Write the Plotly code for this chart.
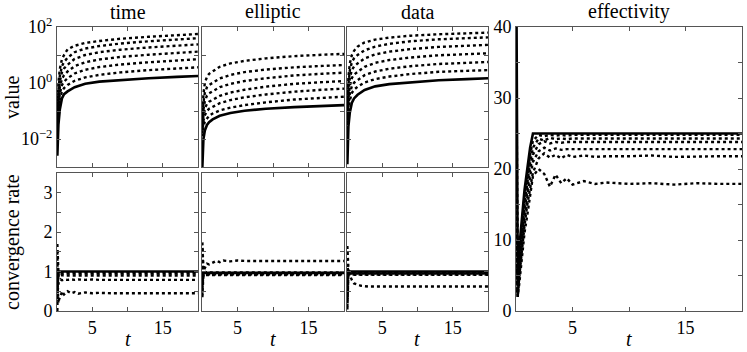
import numpy as np
import plotly.graph_objects as go

# ---- data ----
t_top = [0.05, 0.1, 0.2, 0.4, 0.7, 1.0, 1.5, 2.5, 4, 6, 9, 13, 17, 20]

# log10 of the values (solid first, then the six dotted curves)
time_log = [
    [-2.6, -2.0, -1.5, -0.95, -0.55, -0.4, -0.3, -0.15, -0.03, 0.05, 0.11, 0.17, 0.22, 0.25],
    [-1.2, -0.6, 0.0, 0.5, 0.85, 1.0, 1.2, 1.33, 1.43, 1.5, 1.58, 1.65, 1.71, 1.75],
    [-1.3, -0.8, -0.25, 0.25, 0.6, 0.75, 0.9, 1.1, 1.23, 1.32, 1.41, 1.49, 1.55, 1.6],
    [-1.4, -0.95, -0.45, 0.05, 0.38, 0.52, 0.65, 0.86, 1.0, 1.1, 1.19, 1.27, 1.33, 1.38],
    [-1.5, -1.1, -0.65, -0.15, 0.15, 0.28, 0.41, 0.6, 0.74, 0.84, 0.93, 1.01, 1.07, 1.12],
    [-1.6, -1.25, -0.85, -0.38, -0.08, 0.05, 0.17, 0.34, 0.47, 0.57, 0.66, 0.74, 0.8, 0.85],
    [-1.7, -1.4, -1.05, -0.6, -0.3, -0.18, -0.07, 0.08, 0.2, 0.29, 0.38, 0.46, 0.52, 0.56],
]
elliptic_log = [
    [-3.0, -2.4, -2.0, -1.7, -1.5, -1.4, -1.3, -1.17, -1.07, -0.99, -0.92, -0.86, -0.82, -0.79],
    [-1.4, -0.9, -0.4, 0.0, 0.22, 0.33, 0.42, 0.58, 0.7, 0.79, 0.88, 0.96, 1.01, 1.04],
    [-1.5, -1.1, -0.7, -0.35, -0.15, -0.07, 0.01, 0.16, 0.29, 0.39, 0.48, 0.56, 0.61, 0.64],
    [-1.6, -1.25, -0.95, -0.65, -0.45, -0.37, -0.3, -0.15, -0.03, 0.07, 0.17, 0.27, 0.33, 0.37],
    [-1.7, -1.4, -1.15, -0.9, -0.75, -0.67, -0.6, -0.46, -0.34, -0.24, -0.13, -0.03, 0.03, 0.07],
    [-1.8, -1.55, -1.35, -1.15, -1.0, -0.92, -0.85, -0.72, -0.61, -0.51, -0.41, -0.31, -0.24, -0.2],
    [-1.9, -1.7, -1.55, -1.38, -1.25, -1.17, -1.09, -0.98, -0.88, -0.79, -0.69, -0.59, -0.53, -0.49],
]
data_log = [
    [-2.9, -2.1, -1.55, -1.05, -0.7, -0.55, -0.42, -0.25, -0.12, -0.04, 0.03, 0.1, 0.14, 0.17],
    [-1.0, -0.4, 0.2, 0.7, 1.0, 1.15, 1.3, 1.45, 1.55, 1.62, 1.69, 1.74, 1.78, 1.8],
    [-1.1, -0.6, -0.05, 0.45, 0.75, 0.88, 1.0, 1.17, 1.3, 1.4, 1.49, 1.56, 1.6, 1.63],
    [-1.2, -0.8, -0.3, 0.18, 0.47, 0.59, 0.7, 0.88, 1.02, 1.12, 1.21, 1.29, 1.33, 1.36],
    [-1.35, -1.0, -0.55, -0.1, 0.18, 0.3, 0.4, 0.58, 0.72, 0.82, 0.91, 0.99, 1.03, 1.06],
    [-1.5, -1.2, -0.8, -0.38, -0.1, 0.01, 0.11, 0.28, 0.41, 0.51, 0.6, 0.68, 0.72, 0.75],
    [-1.65, -1.4, -1.05, -0.62, -0.35, -0.24, -0.13, 0.02, 0.14, 0.23, 0.32, 0.4, 0.44, 0.46],
]

t_rate = [0.05, 0.1, 0.2, 0.3, 0.5, 0.7, 1.0, 1.5, 2, 2.5, 3, 4, 5, 6, 8, 10, 12, 14, 16, 18, 20]

time_rate = [
    [0.6, 0.85, 0.95, 1.0, 1.0, 1.0, 1.0, 1.0, 1.0, 1.0, 1.0, 1.0, 1.0, 1.0, 1.0, 1.0, 1.0, 1.0, 1.0, 1.0, 1.0],
    [1.7, 1.2, 1.0, 0.98, 0.99, 0.98, 0.98, 0.98, 0.98, 0.98, 0.98, 0.98, 0.98, 0.98, 0.98, 0.98, 0.98, 0.98, 0.98, 0.98, 0.98],
    [1.5, 0.8, 0.95, 0.96, 0.95, 0.95, 0.95, 0.95, 0.95, 0.95, 0.95, 0.95, 0.95, 0.95, 0.95, 0.95, 0.95, 0.95, 0.95, 0.95, 0.95],
    [0.3, 1.0, 0.88, 0.92, 0.9, 0.91, 0.9, 0.9, 0.9, 0.9, 0.9, 0.9, 0.9, 0.9, 0.9, 0.9, 0.9, 0.9, 0.9, 0.9, 0.9],
    [1.1, 0.5, 0.7, 0.75, 0.8, 0.78, 0.8, 0.79, 0.8, 0.79, 0.8, 0.79, 0.8, 0.79, 0.79, 0.79, 0.79, 0.79, 0.79, 0.79, 0.79],
    [0.0, 0.6, 0.2, 0.3, 0.35, 0.5, 0.42, 0.5, 0.45, 0.48, 0.44, 0.47, 0.45, 0.46, 0.45, 0.45, 0.45, 0.45, 0.45, 0.45, 0.45],
]
elliptic_rate = [
    [0.9, 1.0, 0.97, 0.97, 0.97, 0.97, 0.97, 0.97, 0.97, 0.97, 0.97, 0.97, 0.97, 0.97, 0.97, 0.97, 0.97, 0.97, 0.97, 0.97, 0.97],
    [1.6, 1.1, 0.95, 1.05, 1.15, 1.2, 1.18, 1.22, 1.27, 1.24, 1.28, 1.26, 1.28, 1.27, 1.27, 1.27, 1.27, 1.27, 1.27, 1.27, 1.27],
    [1.74, 1.2, 1.0, 0.98, 0.99, 0.98, 0.98, 0.98, 0.98, 0.98, 0.98, 0.98, 0.98, 0.98, 0.98, 0.98, 0.98, 0.98, 0.98, 0.98, 0.98],
    [0.35, 0.8, 0.95, 0.96, 0.96, 0.96, 0.96, 0.96, 0.96, 0.96, 0.96, 0.96, 0.96, 0.96, 0.96, 0.96, 0.96, 0.96, 0.96, 0.96, 0.96],
    [0.6, 1.1, 0.93, 0.95, 0.94, 0.95, 0.94, 0.94, 0.94, 0.94, 0.94, 0.94, 0.94, 0.94, 0.94, 0.94, 0.94, 0.94, 0.94, 0.94, 0.94],
    [1.3, 0.7, 0.9, 0.93, 0.93, 0.93, 0.93, 0.93, 0.93, 0.93, 0.93, 0.93, 0.93, 0.93, 0.93, 0.93, 0.93, 0.93, 0.93, 0.93, 0.93],
    [0.4, 0.9, 0.88, 0.91, 0.91, 0.91, 0.91, 0.91, 0.91, 0.91, 0.91, 0.91, 0.91, 0.91, 0.91, 0.91, 0.91, 0.91, 0.91, 0.91, 0.91],
]
data_rate = [
    [1.0, 1.02, 1.0, 1.0, 1.0, 1.0, 1.0, 1.0, 1.0, 1.0, 1.0, 1.0, 1.0, 1.0, 1.0, 1.0, 1.0, 1.0, 1.0, 1.0, 1.0],
    [1.65, 1.3, 1.05, 1.0, 0.99, 0.98, 0.98, 0.98, 0.98, 0.98, 0.98, 0.98, 0.98, 0.98, 0.98, 0.98, 0.98, 0.98, 0.98, 0.98, 0.98],
    [0.04, 0.8, 1.0, 0.97, 0.96, 0.96, 0.96, 0.96, 0.96, 0.96, 0.96, 0.96, 0.96, 0.96, 0.96, 0.96, 0.96, 0.96, 0.96, 0.96, 0.96],
    [0.5, 1.1, 0.97, 0.95, 0.95, 0.95, 0.95, 0.95, 0.95, 0.95, 0.95, 0.95, 0.95, 0.95, 0.95, 0.95, 0.95, 0.95, 0.95, 0.95, 0.95],
    [1.2, 0.9, 0.95, 0.94, 0.93, 0.93, 0.93, 0.93, 0.93, 0.93, 0.93, 0.93, 0.93, 0.93, 0.93, 0.93, 0.93, 0.93, 0.93, 0.93, 0.93],
    [0.3, 1.0, 0.92, 0.93, 0.92, 0.92, 0.92, 0.92, 0.92, 0.92, 0.92, 0.92, 0.92, 0.92, 0.92, 0.92, 0.92, 0.92, 0.92, 0.92, 0.92],
    [0.1, 0.6, 1.0, 0.95, 0.85, 0.78, 0.7, 0.66, 0.64, 0.63, 0.62, 0.62, 0.62, 0.62, 0.62, 0.62, 0.62, 0.62, 0.62, 0.62, 0.62],
]

t_eff = [0.05, 0.15, 0.3, 0.5, 0.75, 1.0, 1.25, 1.5, 2, 2.5, 3, 3.5, 4, 4.5, 5, 6, 7, 8, 10, 12, 14, 16, 18, 20]
effectivity = [
    [40, 5, 9, 13, 17, 20, 23, 25, 25, 25, 25, 25, 25, 25, 25, 25, 25, 25, 25, 25, 25, 25, 25, 25],
    [30, 4, 8, 12, 16, 19, 22, 24, 24.8, 24.6, 24.8, 24.7, 24.8, 24.7, 24.8, 24.8, 24.8, 24.8, 24.8, 24.8, 24.8, 24.8, 24.8, 24.8],
    [20, 3, 7, 11, 15, 18, 21, 23, 24.3, 24.0, 24.4, 24.2, 24.3, 24.2, 24.3, 24.3, 24.3, 24.3, 24.3, 24.3, 24.3, 24.3, 24.3, 24.3],
    [15, 2.5, 6, 10, 14, 17, 20, 22, 23.5, 23.9, 23.6, 23.8, 23.7, 23.8, 23.8, 23.8, 23.8, 23.8, 23.8, 23.8, 23.8, 23.8, 23.8, 23.8],
    [10, 2, 5.5, 9, 13, 16, 19, 21, 22.5, 23.0, 22.6, 22.9, 22.7, 22.8, 22.8, 22.8, 22.8, 22.8, 22.8, 22.8, 22.8, 22.8, 22.8, 22.8],
    [6, 2, 5, 8.5, 12, 15, 17.5, 19.5, 21.5, 22.2, 21.6, 22.0, 21.5, 22.0, 21.7, 21.9, 21.7, 21.8, 21.8, 21.9, 21.7, 21.8, 21.8, 21.8],
    [3, 2, 4, 7, 11, 13.5, 16, 19, 20, 19.3, 17.5, 19.2, 18, 18.7, 17.8, 18.3, 17.9, 18.1, 17.9, 18.0, 17.8, 18.0, 17.9, 17.9],
]

titles = ["time", "elliptic", "data", "effectivity"]

FONT = "Liberation Serif"

# panel boxes in window pixels
W, H = 747, 352
cols = [(57, 198), (202, 344), (347, 488)]
top_row = (27, 167)
bot_row = (173, 311)
eff_box = (516, 742, 27, 311)


def px(x):
    return x / W


def py(y):
    return 1 - y / H


def xd(a, b):
    return [px(a), px(b)]


def yd(top, bottom):
    return [py(bottom), py(top)]


fig = go.Figure()


def add_lines(series, t, xa, ya, log=False):
    for i, s in enumerate(series):
        y = np.power(10.0, s) if log else s
        fig.add_trace(go.Scatter(
            x=t, y=y, xaxis=xa, yaxis=ya, mode="lines",
            line=dict(color="black", width=2.6 if i == 0 else 2.4,
                      dash="solid" if i == 0 else "dot"),
            showlegend=False, hoverinfo="skip"))


add_lines(time_log, t_top, "x", "y", log=True)
add_lines(elliptic_log, t_top, "x2", "y2", log=True)
add_lines(data_log, t_top, "x3", "y3", log=True)
add_lines(time_rate, t_rate, "x4", "y4")
add_lines(elliptic_rate, t_rate, "x5", "y5")
add_lines(data_rate, t_rate, "x6", "y6")
add_lines(effectivity, t_eff, "x7", "y7")

axis_common = dict(showline=True, mirror="ticks", linecolor="#555", linewidth=1,
                   ticks="inside", ticklen=4, tickcolor="#555", showgrid=False,
                   zeroline=False, tickfont=dict(family=FONT, size=18, color="black"))


def minor(vals):
    return dict(tickvals=vals, ticks="inside", ticklen=4, tickcolor="#555", showgrid=False)


layout = dict(width=W, height=H, margin=dict(l=0, r=0, t=0, b=0, autoexpand=False),
              plot_bgcolor="white", paper_bgcolor="white",
              font=dict(family=FONT, color="black"))

for k in range(3):
    sfx = "" if k == 0 else str(k + 1)
    a, b = cols[k]
    layout["xaxis" + sfx] = dict(axis_common, domain=xd(a, b), range=[0, 20], anchor="y" + sfx,
                                 tickvals=[5, 10, 15], showticklabels=False)
    layout["yaxis" + sfx] = dict(axis_common, domain=yd(*top_row), type="log", range=[-3, 2],
                                 anchor="x" + sfx, tickvals=[1e-2, 1, 100],
                                 ticktext=["10<sup>−2</sup>", "10<sup>0</sup>", "10<sup>2</sup>"],
                                 minor=minor([1e-1, 10]),
                                 showticklabels=(k == 0))
    s2 = str(k + 4)
    layout["xaxis" + s2] = dict(axis_common, domain=xd(a, b), range=[0, 20], anchor="y" + s2,
                                tickvals=[5, 15], ticktext=["5", "15"], minor=minor([10]))
    layout["yaxis" + s2] = dict(axis_common, domain=yd(*bot_row), range=[0, 3.5],
                                anchor="x" + s2, tickvals=[0, 1, 2, 3],
                                minor=minor([0.5, 1.5, 2.5]),
                                showticklabels=(k == 0))

layout["xaxis7"] = dict(axis_common, domain=xd(eff_box[0], eff_box[1]), range=[0, 20],
                        anchor="y7", tickvals=[5, 15], ticktext=["5", "15"], minor=minor([10]))
layout["yaxis7"] = dict(axis_common, domain=yd(eff_box[2], eff_box[3]), range=[0, 40],
                        anchor="x7", tickvals=[0, 10, 20, 30, 40],
                        minor=minor([5, 15, 25, 35]))

fig.update_layout(**layout)

# titles and axis labels
ann = []
centers = [(a + b) / 2 for a, b in cols] + [(eff_box[0] + eff_box[1]) / 2]
for c, ttl in zip(centers, titles):
    ann.append(dict(text=ttl, x=px(c), y=py(12), xref="paper", yref="paper",
                    xanchor="center", yanchor="middle",
                    showarrow=False, font=dict(family=FONT, size=20)))
    ann.append(dict(text="<i>t</i>", x=px(c), y=py(339), xref="paper", yref="paper",
                    xanchor="center", yanchor="middle",
                    showarrow=False, font=dict(family=FONT, size=20)))
ann.append(dict(text="value", x=px(12), y=py(97), xref="paper", yref="paper",
                xanchor="center", yanchor="middle",
                textangle=-90, showarrow=False, font=dict(family=FONT, size=20)))
ann.append(dict(text="convergence rate", x=px(12), y=py(242), xref="paper", yref="paper",
                xanchor="center", yanchor="middle",
                textangle=-90, showarrow=False, font=dict(family=FONT, size=20)))
fig.update_layout(annotations=ann)

# drop the default 8px page margin so the figure fills the window
fig.write_html("out.html", config={"displayModeBar": False},
               post_script="document.body.style.margin='0';document.body.style.overflow='hidden';")
